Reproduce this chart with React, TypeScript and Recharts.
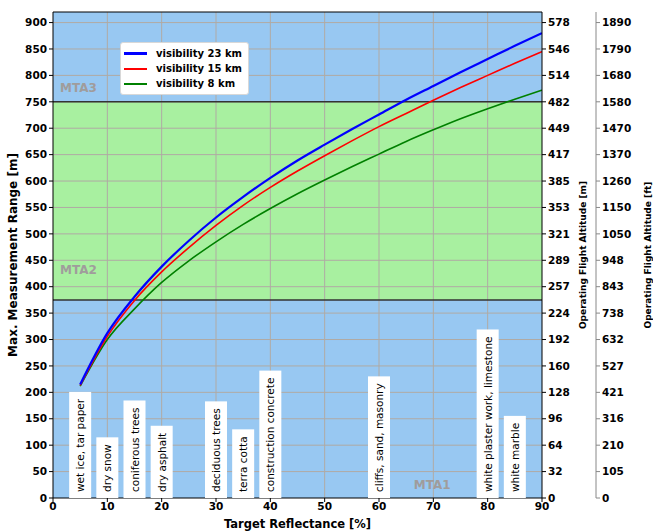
import { useLayoutEffect, useRef, useState } from "react";
import {
  ComposedChart,
  Line,
  XAxis,
  YAxis,
  ReferenceArea,
  ReferenceLine,
  ReferenceDot,
  Legend,
  Label,
} from "recharts";

const reflectance = [5, 10, 15, 20, 25, 30, 35, 40, 45, 50, 55, 60, 65, 70, 75, 80, 85, 90];
const visibility23 = [215, 312, 381, 438, 487, 531, 570, 606, 639, 669, 698, 726, 754, 780, 806, 831, 856, 880];
const visibility15 = [213, 306, 374, 428, 474, 516, 554, 588, 619, 648, 676, 703, 728, 753, 777, 800, 823, 845];
const visibility8 = [212, 300, 358, 408, 449, 485, 518, 548, 576, 602, 627, 651, 675, 697, 718, 737, 755, 772];

const xTicks = [0, 10, 20, 30, 40, 50, 60, 70, 80, 90];
const rangeTicks = [0, 50, 100, 150, 200, 250, 300, 350, 400, 450, 500, 550, 600, 650, 700, 750, 800, 850, 900];
const altitudeMeters = ["0", "32", "64", "96", "128", "160", "192", "224", "257", "289", "321", "353", "385", "417", "449", "482", "514", "546", "578"];
const altitudeFeet = ["0", "105", "210", "316", "421", "527", "632", "738", "843", "948", "1050", "1150", "1260", "1370", "1470", "1580", "1680", "1790", "1890"];

const materialAt = [5, 10, 15, 20, 30, 35, 40, 60, 80, 85];
const materialNames = [
  "wet ice, tar paper",
  "dry snow",
  "coniferous trees",
  "dry asphalt",
  "deciduous trees",
  "terra cotta",
  "construction concrete",
  "cliffs, sand, masonry",
  "white plaster work, limestone",
  "white marble",
];

const seriesNames = ["visibility 23 km", "visibility 15 km", "visibility 8 km"];
const seriesColors = ["#0000ff", "#ff0000", "#008000"];

const rows = reflectance.map((x, i) => ({
  x,
  v23: visibility23[i],
  v15: visibility15[i],
  v8: visibility8[i],
}));

const FONT = "DejaVu Sans";
const SKY = "#98c8f2";
const MEADOW = "#a8f0a0";
const GRID = "#b0aaa4";

function MaterialTag({ cx, cy, name }: { cx: number; cy: number; name: string }) {
  const ref = useRef<SVGTextElement>(null);
  const [len, setLen] = useState(name.length * 6);
  useLayoutEffect(() => {
    if (ref.current) setLen(ref.current.getComputedTextLength());
  }, [name]);
  const h = len + 13;
  return (
    <g>
      <rect x={cx - 11} y={cy - h} width={22} height={h} fill="#fff" />
      <text
        ref={ref}
        transform={`translate(${cx},${cy - 6}) rotate(-90)`}
        textAnchor="start"
        dominantBaseline="central"
        fontFamily={FONT}
        fontSize={10.5}
        fill="#000"
      >
        {name}
      </text>
    </g>
  );
}

function VTitle({ viewBox, value, dx, size }: any) {
  const x = viewBox.x + dx;
  const y = viewBox.y + viewBox.height / 2;
  return (
    <text
      transform={`translate(${x},${y}) rotate(-90)`}
      textAnchor="middle"
      dominantBaseline="central"
      fontFamily={FONT}
      fontWeight="bold"
      fontSize={size}
      fill="#000"
    >
      {value}
    </text>
  );
}

function MtaText({ viewBox, value, anchor }: any) {
  return (
    <text
      x={viewBox.x}
      y={viewBox.y}
      textAnchor={anchor}
      dominantBaseline="central"
      fontFamily={FONT}
      fontWeight="bold"
      fontSize={12}
      fill="#a09c9c"
    >
      {value}
    </text>
  );
}

function LegendBox() {
  return (
    <div
      style={{
        background: "#fff",
        border: "1px solid #d8d8d8",
        borderRadius: 3,
        padding: "3px 6px 3px 3px",
        fontFamily: FONT,
        fontWeight: "bold",
        fontSize: 10,
        lineHeight: "15px",
      }}
    >
      {seriesNames.map((n, i) => (
        <div key={n} style={{ display: "flex", alignItems: "center" }}>
          <span
            style={{
              display: "inline-block",
              width: 23,
              height: i === 0 ? 3 : 2,
              background: seriesColors[i],
              marginRight: 9,
            }}
          />
          {n}
        </div>
      ))}
    </div>
  );
}

const tickStyle = { fontFamily: FONT, fontSize: 10.5, fontWeight: "bold", fill: "#000" };

export default function App() {
  return (
    <div style={{ position: "absolute", left: 0, top: 0, background: "#fff" }}>
      <ComposedChart
        width={653}
        height={531}
        data={rows}
        margin={{ top: 12, right: 0, bottom: 0, left: 0 }}
      >
        <XAxis
          dataKey="x"
          type="number"
          domain={[0, 90]}
          ticks={xTicks}
          allowDataOverflow
          height={33}
          stroke="#000"
          tickSize={4}
          tick={tickStyle}
          tickMargin={1}
        >
          <Label
            content={(p: any) => (
              <text
                x={p.viewBox.x + p.viewBox.width / 2}
                y={p.viewBox.y + 26}
                textAnchor="middle"
                dominantBaseline="central"
                fontFamily={FONT}
                fontWeight="bold"
                fontSize={11.5}
                fill="#000"
              >
                Target Reflectance [%]
              </text>
            )}
          />
        </XAxis>
        <YAxis
          yAxisId="range"
          domain={[0, 920]}
          ticks={rangeTicks}
          allowDataOverflow
          width={53}
          stroke="#000"
          tickSize={4}
          tickMargin={2}
          tick={tickStyle}
        >
          <Label content={(p: any) => <VTitle {...p} value="Max. Measurement Range [m]" dx={13} size={12} />} />
        </YAxis>
        <YAxis
          yAxisId="a-meters"
          orientation="right"
          domain={[0, 920]}
          ticks={rangeTicks}
          allowDataOverflow
          width={54}
          stroke="#000"
          tickSize={4}
          tickMargin={2}
          tick={tickStyle}
          tickFormatter={(v: number) => altitudeMeters[rangeTicks.indexOf(v)]}
        >
          <Label content={(p: any) => <VTitle {...p} value="Operating Flight Altitude [m]" dx={41} size={9} />} />
        </YAxis>
        <YAxis
          yAxisId="b-feet"
          orientation="right"
          domain={[0, 920]}
          ticks={rangeTicks}
          allowDataOverflow
          width={57}
          stroke="#888"
          tickSize={4}
          tickMargin={2}
          tick={tickStyle}
          tickFormatter={(v: number) => altitudeFeet[rangeTicks.indexOf(v)]}
        >
          <Label content={(p: any) => <VTitle {...p} value="Operating Flight Altitude [ft]" dx={52} size={9} />} />
        </YAxis>

        <ReferenceArea yAxisId="range" y1={0} y2={375} fill={SKY} fillOpacity={1} stroke="none" />
        <ReferenceArea yAxisId="range" y1={375} y2={750} fill={MEADOW} fillOpacity={1} stroke="none" />
        <ReferenceArea yAxisId="range" y1={750} y2={920} fill={SKY} fillOpacity={1} stroke="none" />

        {xTicks.slice(1, -1).map((t) => (
          <ReferenceLine key={`gx${t}`} yAxisId="range" x={t} stroke={GRID} strokeWidth={1} />
        ))}
        {rangeTicks.slice(1).map((t) => (
          <ReferenceLine key={`gy${t}`} yAxisId="range" y={t} stroke={GRID} strokeWidth={1} />
        ))}
        <ReferenceLine yAxisId="range" y={375} stroke="#333" strokeWidth={1.5} />
        <ReferenceLine yAxisId="range" y={750} stroke="#333" strokeWidth={1.5} />
        <ReferenceLine yAxisId="range" y={920} stroke="#000" strokeWidth={1} />

        <ReferenceDot yAxisId="range" x={1.3} y={777} r={0} stroke="none" label={(p: any) => <MtaText {...p} value="MTA3" anchor="start" />} />
        <ReferenceDot yAxisId="range" x={1.3} y={432} r={0} stroke="none" label={(p: any) => <MtaText {...p} value="MTA2" anchor="start" />} />
        <ReferenceDot yAxisId="range" x={69.8} y={25} r={0} stroke="none" label={(p: any) => <MtaText {...p} value="MTA1" anchor="middle" />} />

        <Line yAxisId="range" type="monotone" dataKey="v8" stroke={seriesColors[2]} strokeWidth={1.6} dot={false} isAnimationActive={false} />
        <Line yAxisId="range" type="monotone" dataKey="v15" stroke={seriesColors[1]} strokeWidth={1.6} dot={false} isAnimationActive={false} />
        <Line yAxisId="range" type="monotone" dataKey="v23" stroke={seriesColors[0]} strokeWidth={2.2} dot={false} isAnimationActive={false} />

        {materialAt.map((x, i) => (
          <ReferenceDot
            key={materialNames[i]}
            yAxisId="range"
            x={x}
            y={0}
            r={0}
            shape={(p: any) => <MaterialTag cx={p.cx} cy={p.cy} name={materialNames[i]} />}
          />
        ))}

        <Legend
          layout="horizontal"
          verticalAlign="middle"
          align="center"
          wrapperStyle={{ left: 120, top: 42, width: "auto", height: "auto" }}
          content={() => <LegendBox />}
        />
      </ComposedChart>
    </div>
  );
}
